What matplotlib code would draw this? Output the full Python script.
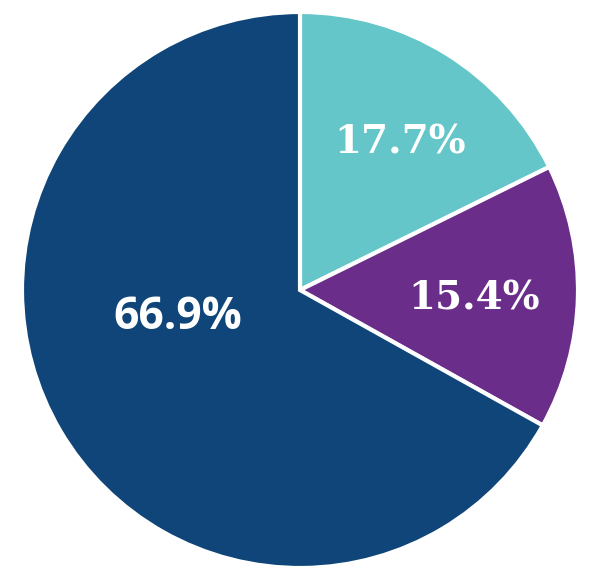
import matplotlib
matplotlib.use("Agg")
import matplotlib.pyplot as plt

# Dati
etichette = ["17.7%", "15.4%", "66.9%"]
valori = [17.7, 15.4, 66.9]
colori = ["#64C6C8", "#6A2D8A", "#0F4578"]

fig = plt.figure(figsize=(6, 5.76), dpi=100)
ax = fig.add_axes([22 / 600, 8 / 576, 556 / 600, 556 / 576])

wedges, _ = ax.pie(
    valori,
    colors=colori,
    startangle=90,
    counterclock=False,
    radius=1,
    wedgeprops={"edgecolor": "white", "linewidth": 3},
)
ax.set_aspect("equal")
ax.set_xlim(-1.0, 1.0)
ax.set_ylim(-1.0, 1.0)
ax.axis("off")

# Etichette
ax.text(0.36, 0.53, etichette[0], color="white", fontsize=28, fontweight="bold",
        family="DejaVu Serif", ha="center", va="center")
ax.text(0.625, -0.03, etichette[1], color="white", fontsize=28, fontweight="bold",
        family="DejaVu Serif", ha="center", va="center")
ax.text(-0.44, -0.10, etichette[2], color="white", fontsize=32, fontweight="bold",
        family="Open Sans", ha="center", va="center")

fig.savefig("out.png", dpi=100, facecolor="white")
